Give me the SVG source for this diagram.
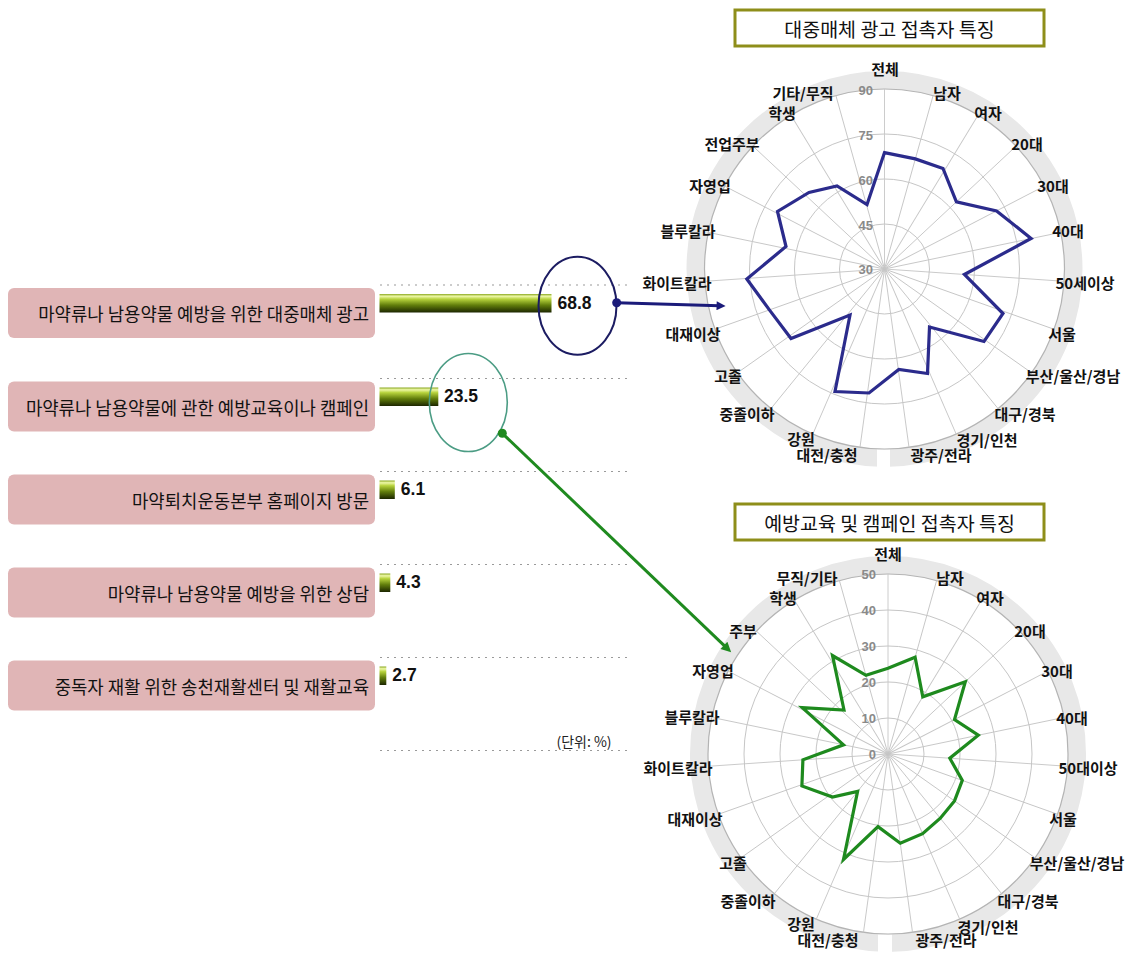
<svg xmlns="http://www.w3.org/2000/svg" width="1135" height="954" viewBox="0 0 1135 954">
<style>
.box{fill:#e0b5b6}
.lbl{font-family:"Noto Sans CJK KR","Noto Sans",sans-serif;font-size:17.8px;fill:#111;text-anchor:end;dominant-baseline:central}
.val{font-family:"Liberation Sans",Arial,sans-serif;font-weight:bold;font-size:17.5px;fill:#111;dominant-baseline:central}
.dot{stroke:#9a9a9a;stroke-width:1.2;stroke-dasharray:2 5;fill:none}
.band{fill:none;stroke:#e8e8e8;stroke-width:18}
.ring{fill:none;stroke:#c6c6c6;stroke-width:1}
.outer{fill:none;stroke:#b4b4b4;stroke-width:1.2}
.spoke{stroke:#c6c6c6;stroke-width:0.9}
.ax{font-family:"Liberation Sans",Arial,sans-serif;font-weight:bold;font-size:13px;fill:#8a8a8a;text-anchor:end;dominant-baseline:central}
.cat{font-family:"Noto Sans CJK KR","Noto Sans",sans-serif;font-weight:bold;font-size:15px;fill:#111;text-anchor:middle;dominant-baseline:central}
.ttl{fill:#fff;stroke:#8e8e1a;stroke-width:3}
.ttxt{font-family:"Noto Sans CJK KR","Noto Sans",sans-serif;font-size:19.5px;fill:#111;text-anchor:middle;dominant-baseline:central}
</style>
<defs>
<linearGradient id="bar" x1="0" y1="0" x2="0" y2="1">
<stop offset="0" stop-color="#8aa820"/>
<stop offset="0.12" stop-color="#eef8a8"/>
<stop offset="0.28" stop-color="#b6d23c"/>
<stop offset="0.6" stop-color="#627e0c"/>
<stop offset="1" stop-color="#1c2600"/>
</linearGradient>
<marker id="arrB" viewBox="0 0 10 10" refX="3" refY="5" markerWidth="11" markerHeight="9" markerUnits="userSpaceOnUse" orient="auto"><path d="M0,0 L10,5 L0,10 z" fill="#1b1b7a"/></marker>
<marker id="arrG" viewBox="0 0 10 10" refX="3" refY="5" markerWidth="12" markerHeight="10" markerUnits="userSpaceOnUse" orient="auto"><path d="M0,0 L10,5 L0,10 z" fill="#1f8a1f"/></marker>
<g id="spokes">
<line class="spoke" x1="0" y1="0" x2="0" y2="-180"/>
<line class="spoke" x1="0" y1="0" x2="0" y2="-180" transform="rotate(15.652)"/>
<line class="spoke" x1="0" y1="0" x2="0" y2="-180" transform="rotate(31.304)"/>
<line class="spoke" x1="0" y1="0" x2="0" y2="-180" transform="rotate(46.957)"/>
<line class="spoke" x1="0" y1="0" x2="0" y2="-180" transform="rotate(62.609)"/>
<line class="spoke" x1="0" y1="0" x2="0" y2="-180" transform="rotate(78.261)"/>
<line class="spoke" x1="0" y1="0" x2="0" y2="-180" transform="rotate(93.913)"/>
<line class="spoke" x1="0" y1="0" x2="0" y2="-180" transform="rotate(109.565)"/>
<line class="spoke" x1="0" y1="0" x2="0" y2="-180" transform="rotate(125.217)"/>
<line class="spoke" x1="0" y1="0" x2="0" y2="-180" transform="rotate(140.870)"/>
<line class="spoke" x1="0" y1="0" x2="0" y2="-180" transform="rotate(156.522)"/>
<line class="spoke" x1="0" y1="0" x2="0" y2="-180" transform="rotate(172.174)"/>
<line class="spoke" x1="0" y1="0" x2="0" y2="-180" transform="rotate(187.826)"/>
<line class="spoke" x1="0" y1="0" x2="0" y2="-180" transform="rotate(203.478)"/>
<line class="spoke" x1="0" y1="0" x2="0" y2="-180" transform="rotate(219.130)"/>
<line class="spoke" x1="0" y1="0" x2="0" y2="-180" transform="rotate(234.783)"/>
<line class="spoke" x1="0" y1="0" x2="0" y2="-180" transform="rotate(250.435)"/>
<line class="spoke" x1="0" y1="0" x2="0" y2="-180" transform="rotate(266.087)"/>
<line class="spoke" x1="0" y1="0" x2="0" y2="-180" transform="rotate(281.739)"/>
<line class="spoke" x1="0" y1="0" x2="0" y2="-180" transform="rotate(297.391)"/>
<line class="spoke" x1="0" y1="0" x2="0" y2="-180" transform="rotate(313.043)"/>
<line class="spoke" x1="0" y1="0" x2="0" y2="-180" transform="rotate(328.696)"/>
<line class="spoke" x1="0" y1="0" x2="0" y2="-180" transform="rotate(344.348)"/>
</g>
</defs>
<rect width="1135" height="954" fill="#fff"/>

<!-- left bar chart -->
<g id="gridlines">
<line class="dot" x1="380" y1="285" x2="627" y2="285"/>
<line class="dot" x1="380" y1="378.5" x2="627" y2="378.5"/>
<line class="dot" x1="380" y1="471.5" x2="627" y2="471.5"/>
<line class="dot" x1="380" y1="564.5" x2="627" y2="564.5"/>
<line class="dot" x1="380" y1="657.5" x2="627" y2="657.5"/>
<line class="dot" x1="380" y1="750.5" x2="627" y2="750.5"/>
</g>
<g id="item1">
<rect class="box" x="8" y="288" width="367" height="50" rx="6"/>
<text class="lbl" x="369" y="313">마약류나 남용약물 예방을 위한 대중매체 광고</text>
<rect x="379.5" y="294" width="172" height="18.5" fill="url(#bar)"/>
<text class="val" x="557.5" y="302.5">68.8</text>
</g>
<g id="item2">
<rect class="box" x="8" y="381.5" width="367" height="50" rx="6"/>
<text class="lbl" x="369" y="406.5">마약류나 남용약물에 관한 예방교육이나 캠페인</text>
<rect x="379.5" y="387.5" width="58.8" height="18.5" fill="url(#bar)"/>
<text class="val" x="444" y="396">23.5</text>
</g>
<g id="item3">
<rect class="box" x="8" y="474.5" width="367" height="50" rx="6"/>
<text class="lbl" x="369" y="499.5">마약퇴치운동본부 홈페이지 방문</text>
<rect x="379.5" y="480.5" width="15.3" height="18.5" fill="url(#bar)"/>
<text class="val" x="400.8" y="489">6.1</text>
</g>
<g id="item4">
<rect class="box" x="8" y="567.5" width="367" height="50" rx="6"/>
<text class="lbl" x="369" y="592.5">마약류나 남용약물 예방을 위한 상담</text>
<rect x="379.5" y="573.5" width="10.8" height="18.5" fill="url(#bar)"/>
<text class="val" x="396.3" y="582">4.3</text>
</g>
<g id="item5">
<rect class="box" x="8" y="660.5" width="367" height="50" rx="6"/>
<text class="lbl" x="369" y="685.5">중독자 재활 위한 송천재활센터 및 재활교육</text>
<rect x="379.5" y="666.5" width="6.8" height="18.5" fill="url(#bar)"/>
<text class="val" x="392.3" y="675">2.7</text>
</g>
<text id="unit" x="584" y="741" font-family="Noto Sans CJK KR, Noto Sans, sans-serif" font-size="14" fill="#222" text-anchor="middle" dominant-baseline="central">(단위: %)</text>

<!-- top radar -->
<g id="radar-top">
<rect class="ttl" x="735" y="10" width="309" height="36"/>
<text class="ttxt" x="889.5" y="28">대중매체 광고 접촉자 특징</text>
<circle class="band" cx="884.5" cy="269" r="189"/>
<rect x="877" y="449.5" width="13" height="20" fill="#fff"/>
<g transform="translate(884.5,269)">
<circle class="ring" r="45"/><circle class="ring" r="90"/><circle class="ring" r="135"/><circle class="outer" r="180"/>
<use href="#spokes"/>
</g>
<text class="ax" x="873" y="90">90</text>
<text class="ax" x="873" y="135">75</text>
<text class="ax" x="873" y="180">60</text>
<text class="ax" x="873" y="225">45</text>
<text class="ax" x="873" y="269">30</text>
<polygon points="884.5,152.6 915.3,158.9 943,168.5 956.4,201.8 996.6,210.9 1031.1,238.5 964.4,274.5 1003,313.5 984,341.5 929.5,327 927.5,373.5 898.8,369.5 869,393 835,391.5 850,315 791,338.5 769.4,309.9 746.8,279 786,246.5 777.5,211.5 809,192.5 837,186 867,204.5" fill="none" stroke="#2b2b8c" stroke-width="3.2" stroke-linejoin="miter"/>
<text class="cat" x="885" y="68">전체</text>
<text class="cat" x="947" y="92">남자</text>
<text class="cat" x="988" y="112">여자</text>
<text class="cat" x="1027" y="143">20대</text>
<text class="cat" x="1053" y="185">30대</text>
<text class="cat" x="1068" y="230">40대</text>
<text class="cat" x="1085" y="282">50세이상</text>
<text class="cat" x="1062" y="333">서울</text>
<text class="cat" x="1073" y="375">부산/울산/경남</text>
<text class="cat" x="1025" y="413">대구/경북</text>
<text class="cat" x="987" y="439">경기/인천</text>
<text class="cat" x="941" y="454">광주/전라</text>
<text class="cat" x="827" y="454">대전/충청</text>
<text class="cat" x="801" y="438">강원</text>
<text class="cat" x="747" y="413">중졸이하</text>
<text class="cat" x="728" y="375">고졸</text>
<text class="cat" x="693" y="333">대재이상</text>
<text class="cat" x="677" y="282">화이트칼라</text>
<text class="cat" x="688" y="230">블루칼라</text>
<text class="cat" x="710" y="185">자영업</text>
<text class="cat" x="732" y="143">전업주부</text>
<text class="cat" x="782" y="112">학생</text>
<text class="cat" x="803" y="92">기타/무직</text>
</g>

<!-- bottom radar -->
<g id="radar-bottom">
<rect class="ttl" x="735" y="504" width="309" height="36"/>
<text class="ttxt" x="889.5" y="522">예방교육 및 캠페인 접촉자 특징</text>
<circle class="band" cx="888" cy="754" r="189"/>
<rect x="878" y="934.5" width="14" height="20" fill="#fff"/>
<g transform="translate(888,754)">
<circle class="ring" r="36"/><circle class="ring" r="72"/><circle class="ring" r="108"/><circle class="ring" r="144"/><circle class="outer" r="180"/>
<use href="#spokes"/>
</g>
<text class="ax" x="876" y="574">50</text>
<text class="ax" x="876" y="610">40</text>
<text class="ax" x="876" y="646">30</text>
<text class="ax" x="876" y="682">20</text>
<text class="ax" x="876" y="718">10</text>
<text class="ax" x="876" y="754">0</text>
<polygon points="888,668.3 915.1,657.3 922.8,696.8 965.3,681.8 954.5,719.5 978.3,735.2 949.8,758.2 962.3,780.4 954.5,800.9 940.3,818.2 922.6,833.6 900.3,843.2 878,826.7 843.5,859.5 857.6,791.4 832.5,797 801.9,786 802.9,759.8 843.5,744.8 802.3,707.6 844,710 832.5,655.5 866,675.3" fill="none" stroke="#1e8a1e" stroke-width="3.2"/>
<text class="cat" x="888" y="553">전체</text>
<text class="cat" x="950" y="577">남자</text>
<text class="cat" x="990" y="597">여자</text>
<text class="cat" x="1030" y="630">20대</text>
<text class="cat" x="1057" y="670">30대</text>
<text class="cat" x="1072" y="717">40대</text>
<text class="cat" x="1088" y="767">50대이상</text>
<text class="cat" x="1063" y="818">서울</text>
<text class="cat" x="1077" y="862">부산/울산/경남</text>
<text class="cat" x="1028" y="900">대구/경북</text>
<text class="cat" x="988" y="926">경기/인천</text>
<text class="cat" x="946" y="939">광주/전라</text>
<text class="cat" x="828" y="939">대전/충청</text>
<text class="cat" x="801" y="923">강원</text>
<text class="cat" x="748" y="900">중졸이하</text>
<text class="cat" x="733" y="862">고졸</text>
<text class="cat" x="695" y="818">대재이상</text>
<text class="cat" x="678" y="767">화이트칼라</text>
<text class="cat" x="692" y="716">블루칼라</text>
<text class="cat" x="713" y="670">자영업</text>
<text class="cat" x="743" y="630">주부</text>
<text class="cat" x="783" y="597">학생</text>
<text class="cat" x="807" y="577">무직/기타</text>
</g>

<!-- connectors -->
<g id="connectors">
<ellipse cx="577.5" cy="305.8" rx="39" ry="49" fill="none" stroke="#1c1c62" stroke-width="2"/>
<ellipse cx="468.3" cy="402.5" rx="39" ry="49" fill="none" stroke="#4b9c84" stroke-width="1.6"/>
<line x1="616.7" y1="302.7" x2="719.3" y2="305.8" stroke="#1b1b7a" stroke-width="3" marker-end="url(#arrB)"/>
<circle cx="616.7" cy="302.7" r="4.5" fill="#1b1b7a"/>
<line x1="502.3" y1="433.3" x2="726.1" y2="647.4" stroke="#1f8a1f" stroke-width="3" marker-end="url(#arrG)"/>
<circle cx="502.3" cy="433.3" r="4.5" fill="#1f8a1f"/>
</g>
</svg>
